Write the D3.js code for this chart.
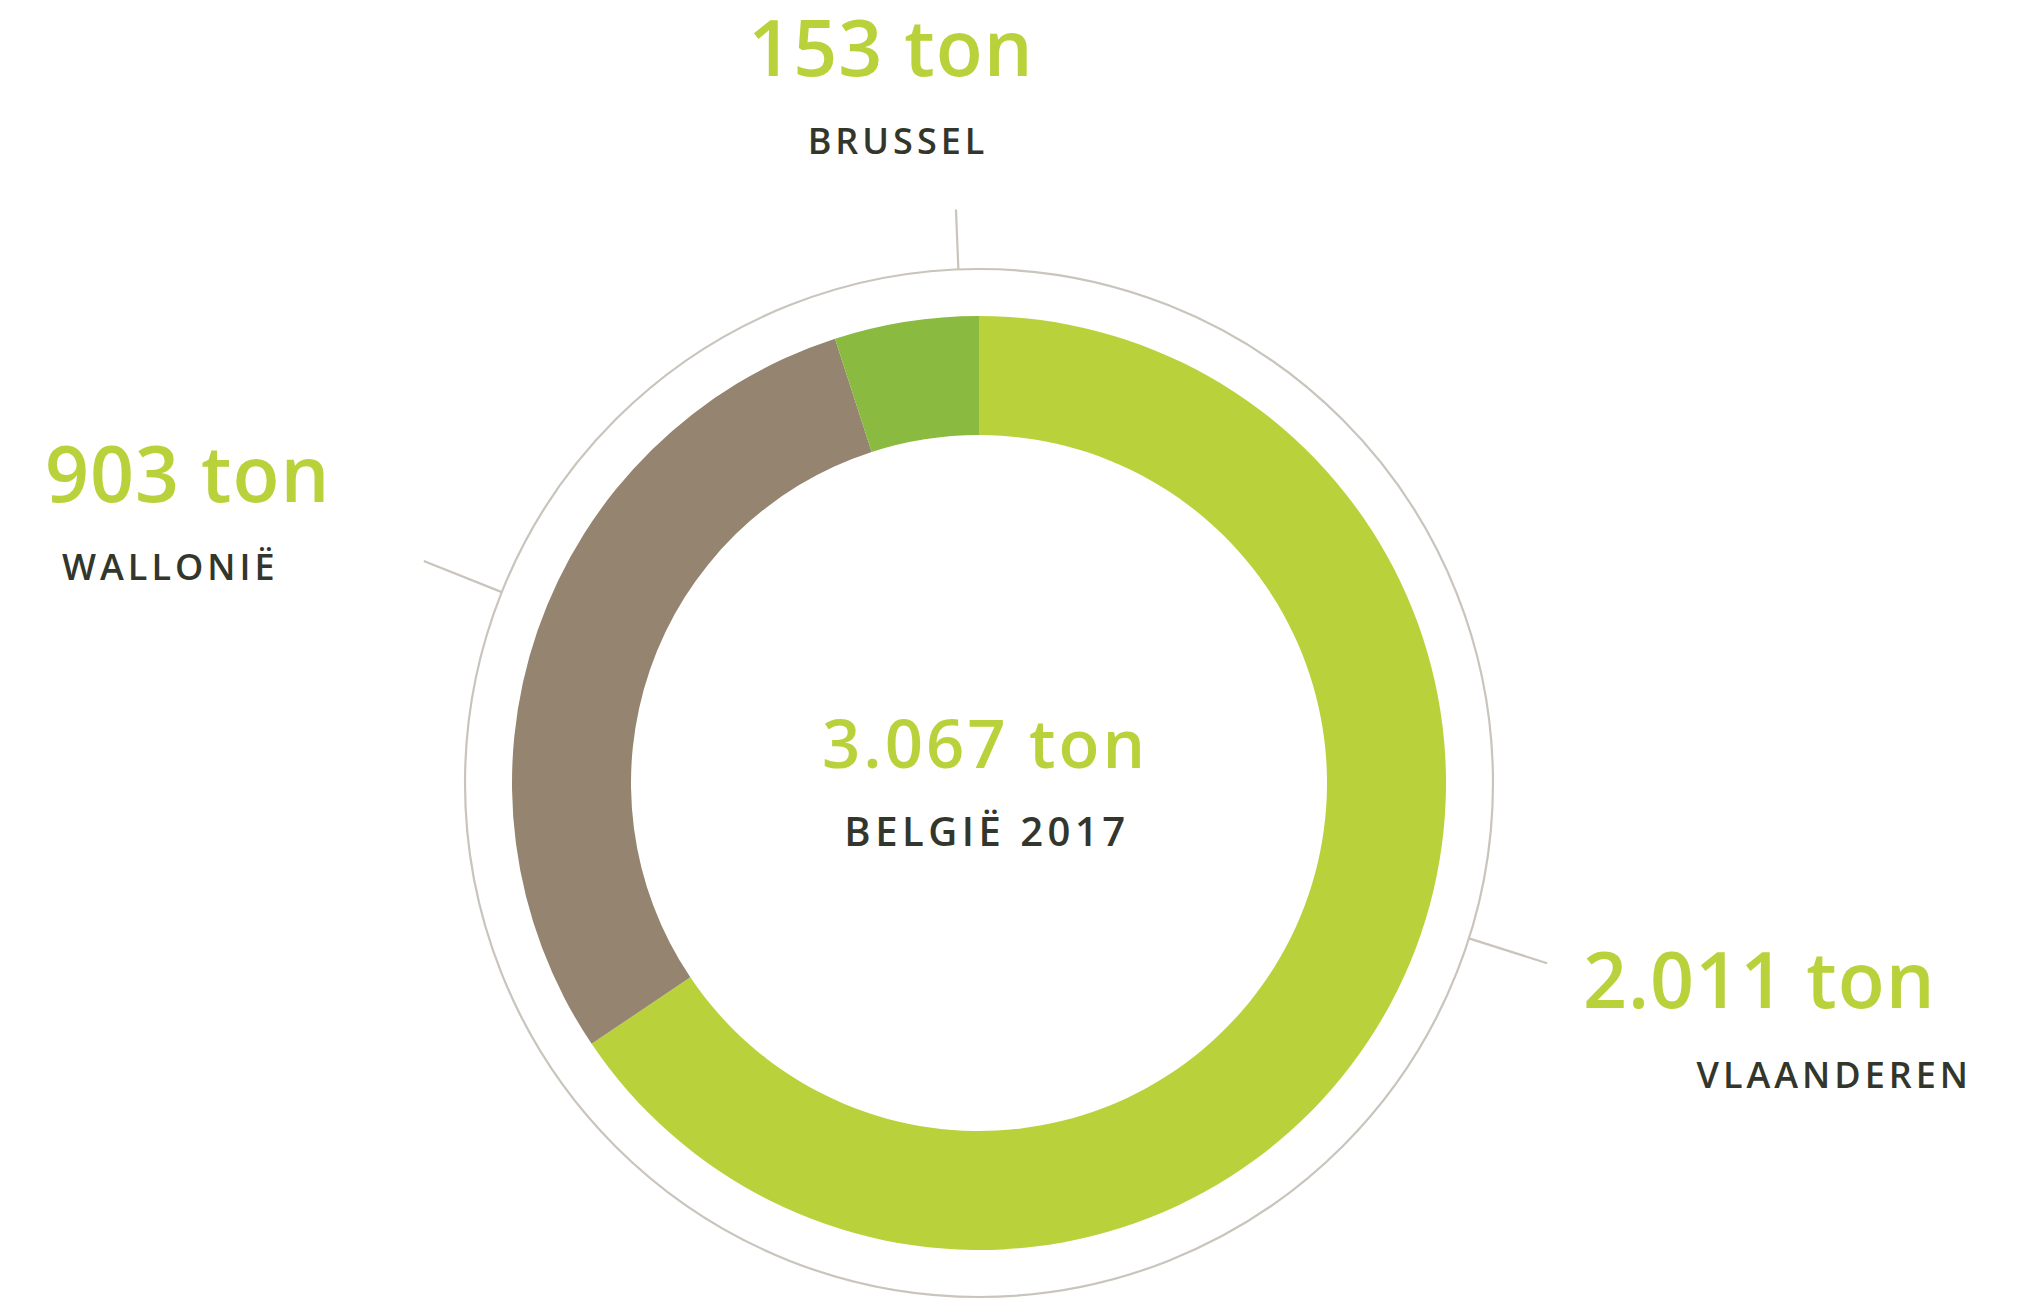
<!DOCTYPE html>
<html lang="nl">
<head>
<meta charset="utf-8">
<title>België 2017</title>
<script src="https://cdn.jsdelivr.net/npm/d3@7"></script>
<style>
  body { margin: 0; background: #fff; }
  svg { display: block; }
  .value { font-family: "Open Sans", sans-serif; font-weight: 600; fill: #b9d23c; }
  .name { font-family: "Open Sans", sans-serif; font-weight: 600; fill: #33362b; }
</style>
</head>
<body>
<div id="chart"></div>
<script>
// data
var regions = ["VLAANDEREN", "WALLONIË", "BRUSSEL"];
var tons = [2011, 903, 153];
var colors = ["#b9d23c", "#958470", "#8abb40"];
var valueLabels = ["2.011 ton", "903 ton", "153 ton"];
var totalLabel = "3.067 ton";
var centerTitle = "BELGIË 2017";
// angle (deg, clockwise from top) where the leader line leaves the ring
var leaderAngles = [107.6, 291.8, 357.7];
var leaderLengths = [82, 84, 60];

var w = 2024, h = 1299;
var cx = 979, cy = 783;
var rOuter = 467, rInner = 348, rRing = 514;

// label placement: value x, value baseline, anchor, name x, name anchor
var labelPos = [
  [1583, 1008, "start", 1968, "end"],
  [45, 502, "start", 62, "start"],
  [891, 76, "middle", 896, "middle"]
];

var svg = d3.select("#chart").append("svg")
  .attr("width", w)
  .attr("height", h);

var g = svg.append("g")
  .attr("transform", "translate(" + cx + "," + cy + ")");

var pie = d3.pie().sort(null).value(function(d) { return d; });
var arc = d3.arc().innerRadius(rInner).outerRadius(rOuter);

g.selectAll("path.slice")
  .data(pie(tons))
  .enter()
  .append("path")
  .attr("class", "slice")
  .attr("d", arc)
  .attr("fill", function(d, i) { return colors[i]; });

// thin outer ring
g.append("circle")
  .attr("r", rRing)
  .attr("fill", "none")
  .attr("stroke", "#c9c4bc")
  .attr("stroke-width", 2.2);

// leader lines
g.selectAll("line.leader")
  .data(leaderAngles)
  .enter()
  .append("line")
  .attr("class", "leader")
  .each(function(a, i) {
    var rad = a * Math.PI / 180;
    var p0 = d3.pointRadial(rad, rRing);
    var p1 = d3.pointRadial(rad, rRing + leaderLengths[i]);
    d3.select(this)
      .attr("x1", p0[0]).attr("y1", p0[1])
      .attr("x2", p1[0]).attr("y2", p1[1]);
  })
  .attr("stroke", "#c9c4bc")
  .attr("stroke-width", 2.2);

// region labels
regions.forEach(function(r, i) {
  var p = labelPos[i];
  svg.append("text")
    .attr("class", "value")
    .attr("x", p[0])
    .attr("y", p[1])
    .attr("text-anchor", p[2])
    .style("font-size", "77px")
    .style("letter-spacing", "1px")
    .text(valueLabels[i]);
  svg.append("text")
    .attr("class", "name")
    .attr("x", p[3] + (p[4] === "end" ? 4 : (p[4] === "middle" ? 2 : 0)))
    .attr("y", p[1] + (i === 0 ? 80 : 78))
    .attr("text-anchor", p[4])
    .style("font-size", "36px")
    .style("letter-spacing", "4px")
    .text(r);
});

// center text
svg.append("text")
  .attr("class", "value")
  .attr("x", 985)
  .attr("y", 768)
  .attr("text-anchor", "middle")
  .style("font-size", "67px")
  .style("letter-spacing", "3px")
  .text(totalLabel);

svg.append("text")
  .attr("class", "name")
  .attr("x", 987)
  .attr("y", 846)
  .attr("text-anchor", "middle")
  .style("font-size", "40px")
  .style("letter-spacing", "4.5px")
  .text(centerTitle);
</script>
</body>
</html>
